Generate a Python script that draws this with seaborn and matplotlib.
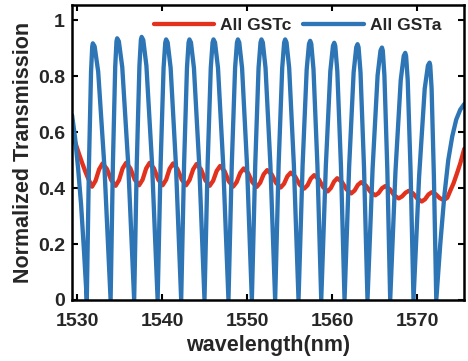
import matplotlib
matplotlib.use("Agg")
import matplotlib.pyplot as plt
import seaborn as sns
import pandas as pd

# ---------------- data ----------------
series_names = ["All GSTc", "All GSTa"]

red_wl = [1529.41, 1529.76, 1530.20, 1530.59, 1530.98, 1531.29, 1531.56,
          1531.76, 1532.17, 1532.59,
          1533.00, 1533.51, 1534.02,
          1534.53, 1534.94, 1535.35,
          1535.76, 1536.27, 1536.78,
          1537.29, 1537.70, 1538.12,
          1538.53, 1539.04, 1539.55,
          1540.06, 1540.47, 1540.88,
          1541.29, 1541.80, 1542.31,
          1542.82, 1543.23, 1543.65,
          1544.06, 1544.57, 1545.08,
          1545.59, 1546.00, 1546.41,
          1546.82, 1547.33, 1547.84,
          1548.35, 1548.76, 1549.18,
          1549.59, 1550.10, 1550.61,
          1551.12, 1551.53, 1551.94,
          1552.35, 1552.88, 1553.41,
          1553.94, 1554.33, 1554.73,
          1555.12, 1555.65, 1556.18,
          1556.71, 1557.10, 1557.49,
          1557.88, 1558.41, 1558.94,
          1559.47, 1559.84, 1560.22,
          1560.59, 1561.14, 1561.69,
          1562.24, 1562.63, 1563.02,
          1563.41, 1563.96, 1564.51,
          1565.06, 1565.45, 1565.85,
          1566.24, 1566.77, 1567.29,
          1567.82, 1568.21, 1568.61,
          1569.00, 1569.51, 1570.02,
          1570.53, 1570.92, 1571.32,
          1571.71, 1572.18, 1572.65,
          1573.12, 1573.53, 1573.88, 1574.27, 1574.67, 1575.06, 1575.53]

red_t = [0.61, 0.565, 0.524, 0.49, 0.458, 0.435, 0.417,
         0.405, 0.426, 0.467,
         0.488, 0.468, 0.428,
         0.408, 0.429, 0.470,
         0.490, 0.470, 0.430,
         0.410, 0.430, 0.470,
         0.490, 0.470, 0.430,
         0.410, 0.430, 0.469,
         0.488, 0.468, 0.430,
         0.410, 0.429, 0.467,
         0.486, 0.467, 0.428,
         0.408, 0.426, 0.461,
         0.479, 0.461, 0.424,
         0.405, 0.421, 0.454,
         0.470, 0.454, 0.421,
         0.404, 0.419, 0.449,
         0.464, 0.449, 0.418,
         0.402, 0.415, 0.442,
         0.455, 0.441, 0.412,
         0.398, 0.410, 0.434,
         0.446, 0.432, 0.403,
         0.388, 0.400, 0.423,
         0.435, 0.422, 0.395,
         0.381, 0.391, 0.411,
         0.421, 0.409, 0.386,
         0.374, 0.382, 0.399,
         0.407, 0.396, 0.374,
         0.363, 0.370, 0.383,
         0.390, 0.381, 0.362,
         0.352, 0.360, 0.377,
         0.385, 0.378, 0.364,
         0.357, 0.365, 0.390, 0.417, 0.452, 0.488, 0.540]

blue_wl = [1529.41, 1529.76, 1530.12, 1530.47, 1530.82,
           1531.14,
           1531.39, 1531.64, 1531.78, 1531.85, 1532.06, 1532.48, 1533.21,
           1533.94,
           1534.21, 1534.48, 1534.63, 1534.71, 1534.91, 1535.31, 1536.01,
           1536.71,
           1537.02, 1537.33, 1537.50, 1537.59, 1537.78, 1538.15, 1538.81,
           1539.47,
           1539.82, 1540.17, 1540.37, 1540.47, 1540.65, 1541.00, 1541.62,
           1542.24,
           1542.58, 1542.92, 1543.11, 1543.21, 1543.39, 1543.74, 1544.36,
           1544.98,
           1545.35, 1545.72, 1545.93, 1546.04, 1546.22, 1546.57, 1547.18,
           1547.80,
           1548.19, 1548.58, 1548.80, 1548.91, 1549.07, 1549.40, 1549.98,
           1550.55,
           1550.95, 1551.34, 1551.57, 1551.68, 1551.84, 1552.16, 1552.73,
           1553.29,
           1553.70, 1554.12, 1554.35, 1554.47, 1554.63, 1554.94, 1555.49,
           1556.04,
           1556.52, 1557.00, 1557.27, 1557.41, 1557.54, 1557.80, 1558.26,
           1558.71,
           1559.25, 1559.78, 1560.09, 1560.24, 1560.36, 1560.60, 1561.03,
           1561.45,
           1561.99, 1562.52, 1562.83, 1562.98, 1563.10, 1563.33, 1563.74,
           1564.15,
           1564.75, 1565.34, 1565.68, 1565.85, 1565.95, 1566.14, 1566.48,
           1566.82,
           1567.44, 1568.06, 1568.41, 1568.59, 1568.69, 1568.88, 1569.22,
           1569.56,
           1570.22, 1570.88, 1571.26, 1571.45, 1571.53, 1571.69, 1571.96,
           1572.24,
           1572.71, 1573.18, 1573.65, 1574.12, 1574.59, 1575.06, 1575.53]

blue_t = [0.66, 0.58, 0.47, 0.34, 0.17,
          0.0,
          0.477, 0.816, 0.906, 0.917, 0.906, 0.816, 0.477,
          0.0,
          0.486, 0.832, 0.924, 0.935, 0.924, 0.832, 0.486,
          0.0,
          0.489, 0.837, 0.929, 0.940, 0.929, 0.837, 0.489,
          0.0,
          0.484, 0.829, 0.920, 0.931, 0.920, 0.829, 0.484,
          0.0,
          0.484, 0.829, 0.920, 0.931, 0.920, 0.829, 0.484,
          0.0,
          0.484, 0.829, 0.920, 0.931, 0.920, 0.829, 0.484,
          0.0,
          0.484, 0.829, 0.920, 0.931, 0.920, 0.829, 0.484,
          0.0,
          0.484, 0.829, 0.920, 0.931, 0.920, 0.829, 0.484,
          0.0,
          0.484, 0.829, 0.920, 0.931, 0.920, 0.829, 0.484,
          0.0,
          0.482, 0.824, 0.915, 0.926, 0.915, 0.824, 0.482,
          0.0,
          0.478, 0.818, 0.908, 0.919, 0.908, 0.818, 0.478,
          0.0,
          0.475, 0.813, 0.903, 0.914, 0.903, 0.813, 0.475,
          0.0,
          0.469, 0.803, 0.891, 0.902, 0.891, 0.803, 0.469,
          0.0,
          0.459, 0.786, 0.872, 0.883, 0.872, 0.786, 0.459,
          0.0,
          0.441, 0.755, 0.838, 0.848, 0.838, 0.755, 0.441,
          0.0,
          0.20, 0.37, 0.50, 0.585, 0.645, 0.68, 0.70]

x_ticks = [1530, 1540, 1550, 1560, 1570]
x_tick_labels = ["1530", "1540", "1550", "1560", "1570"]
y_ticks = [0, 0.2, 0.4, 0.6, 0.8, 1.0]
y_tick_labels = ["0", "0.2", "0.4", "0.6", "0.8", "1"]

assert len(red_wl) == len(red_t)
assert len(blue_wl) == len(blue_t)

# ---------------- figure ----------------
sns.set_style("ticks")
plt.rcParams["font.family"] = ["Liberation Sans", "DejaVu Sans"]
plt.rcParams["font.weight"] = "bold"
plt.rcParams["axes.labelweight"] = "bold"

RED = "#e2311d"
BLUE = "#2e75b6"

df = pd.concat([
    pd.DataFrame({"wl": red_wl, "T": red_t, "series": series_names[0]}),
    pd.DataFrame({"wl": blue_wl, "T": blue_t, "series": series_names[1]}),
], ignore_index=True)

fig = plt.figure(figsize=(4.68, 3.61), dpi=100)
ax = fig.add_axes([72 / 468, 61 / 361, 392 / 468, 295 / 361])

sns.lineplot(data=df, x="wl", y="T", hue="series", hue_order=series_names,
             palette=[RED, BLUE], estimator=None, sort=False,
             linewidth=3.1, ax=ax)

ax.set_xlim(1529.4, 1575.5)
ax.set_ylim(0, 1.054)
ax.set_xticks(x_ticks)
ax.set_xticklabels(x_tick_labels)
ax.set_yticks(y_ticks)
ax.set_yticklabels(y_tick_labels)

ax.tick_params(axis="both", direction="in", length=4, width=1.5,
               top=True, right=True, labelsize=14, color="black")
ax.tick_params(axis="x", pad=9)
ax.tick_params(axis="y", pad=5)
for sp in ax.spines.values():
    sp.set_linewidth(1.8)
    sp.set_color("black")

ax.set_xlabel("wavelength(nm)", fontsize=15.5, fontweight="bold", labelpad=4)
ax.set_ylabel("Normalized Transmission", fontsize=15.5, fontweight="bold",
              labelpad=3)

handles, labels = ax.get_legend_handles_labels()
ax.legend(handles, labels, loc="center", bbox_to_anchor=(0.575, 0.932),
          ncol=2, frameon=False, prop={"size": 12.5, "weight": "bold"},
          handlelength=3.5, handletextpad=0.35, columnspacing=0.65,
          borderaxespad=0.0)

fig.savefig("out.png", dpi=100)
